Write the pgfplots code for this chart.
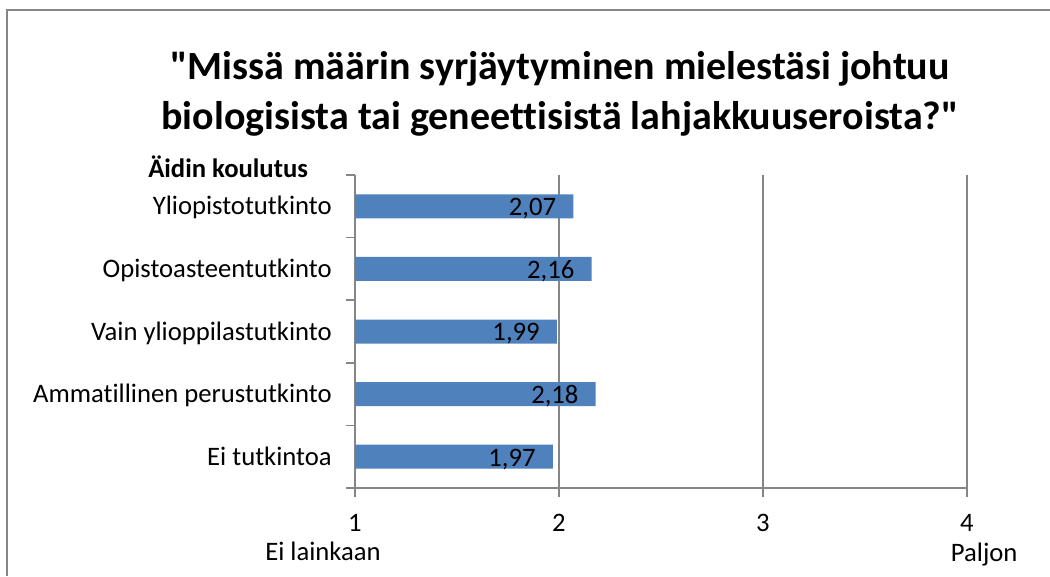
\documentclass[border=0pt]{standalone}
\usepackage{fontspec}
\setmainfont{Carlito}[Ligatures={TeXOff,NoCommon}]
\usepackage{pgfplots}
\pgfplotsset{compat=1.18}
\definecolor{barblue}{HTML}{4F81BD}
\definecolor{axisgray}{HTML}{868686}
\begin{document}
\fontsize{20pt}{24pt}\selectfont
\begin{tikzpicture}
\useasboundingbox (0,0) rectangle (787.5pt,432pt);
% chart area frame (cut off at right and bottom)
\draw[axisgray, line width=1.5pt] (5.6pt,0pt) -- (5.6pt,424.5pt) -- (787.5pt,424.5pt);
\begin{axis}[
    at={(266.25pt,66pt)}, anchor=south west,
    scale only axis, width=459pt, height=234.75pt,
    xbar, bar width=18pt, bar shift=0pt,
    xmin=1, xmax=4, ymin=0.5, ymax=5.5,
    axis x line*=bottom, axis y line*=left,
    axis line style={axisgray, line width=1.2pt},
    xtick={1,2,3,4},
    xmajorgrids, grid style={axisgray, line width=1.2pt},
    ytick={0.5,1.5,...,5.5}, yticklabels={},
    extra y ticks={1,2,3,4,5},
    extra y tick labels={Ei tutkintoa,Ammatillinen perustutkinto,Vain ylioppilastutkinto,Opistoasteentutkinto,Yliopistotutkinto},
    extra y tick style={major tick length=0pt},
    tick align=outside, major tick length=6.5pt,
    tick style={axisgray, line width=1.2pt},
    /pgf/number format/assume math mode=true,
    ticklabel style={font=\fontsize{20pt}{24pt}\selectfont, inner sep=0pt},
    yticklabel style={anchor=base east, xshift=-17.25pt, yshift=-6.4pt},
    xticklabel style={anchor=base, yshift=-26pt},
    point meta=x,
    nodes near coords={\pgfmathprintnumber[fixed,fixed zerofill,precision=2,use comma,assume math mode=true]{\pgfplotspointmeta}},
    every node near coord/.append style={anchor=base east, inner sep=0pt, xshift=-12.75pt, yshift=-7pt, black, font=\fontsize{20pt}{24pt}\selectfont},
]
\addplot[fill=barblue, draw=none] coordinates {(1.97,1) (2.18,2) (1.99,3) (2.16,4) (2.07,5)};
\end{axis}
\node[anchor=base, font=\fontsize{30pt}{36pt}\selectfont\bfseries] at (420pt,372.5pt) {"Missä määrin syrjäytyminen mielestäsi johtuu};
\node[anchor=base, font=\fontsize{30pt}{36pt}\selectfont\bfseries] at (420pt,335pt) {biologisista tai geneettisistä lahjakkuuseroista?"};
\node[anchor=base west, inner sep=0pt, font=\fontsize{20pt}{24pt}\selectfont\bfseries] at (111pt,298.5pt) {Äidin koulutus};
\node[anchor=base west, inner sep=0pt] at (198.75pt,11.5pt) {Ei lainkaan};
\node[anchor=base west, inner sep=0pt] at (713pt,11.25pt) {Paljon};
\end{tikzpicture}
\end{document}
